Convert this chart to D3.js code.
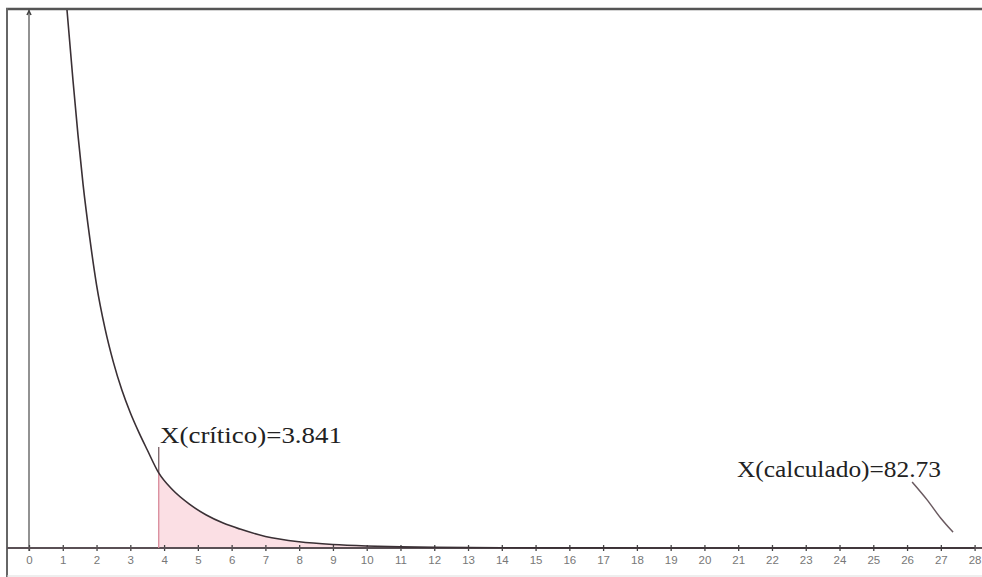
<!DOCTYPE html>
<html><head><meta charset="utf-8">
<script src="https://cdn.jsdelivr.net/npm/d3@7"></script>
<style>html,body{margin:0;padding:0;background:#fff;overflow:hidden}</style>
</head><body>
<svg id="c" width="982" height="577"></svg>
<script>
// data
const tickValues = d3.range(0, 29);
const curveX = [1.125,1.30,1.45,1.60,1.80,2.00,2.25,2.50,2.75,3.00,3.25,3.50,3.841,4.25,4.75,5.25,5.75,6.25,7.0,8.0,9.0,10.0,11.0,12,14,17,20,28];
const curveY = [0.2136,0.186,0.164,0.1445,0.1230,0.1045,0.0872,0.0737,0.0627,0.0537,0.0460,0.0390,0.0298,0.0231,0.0174,0.0131,0.0099,0.0075,0.0046,0.0025,0.0014,0.0008,0.00045,0.00025,0.0001,0.00003,0.00001,0.0];
const critValue = 3.841;
const critPointerTop = 0.0401;
const critLabel = "X(crítico)=3.841";
const calcLabel = "X(calculado)=82.73";
const calcPointerX = [26.15, 26.6, 27.0, 27.36];
const calcPointerY = [0.0262, 0.0190, 0.0118, 0.0063];

const svg = d3.select("#c");
const x = d3.scaleLinear().domain([0, 28]).range([29, 974.6]);
const y = d3.scaleLinear().domain([0, 0.2136]).range([548, 10]);

const pts = curveX.map((v,i)=>[v, curveY[i]]);
const shadePts = pts.filter(p=>p[0] >= critValue);

// shaded area
svg.append("path")
  .datum(shadePts)
  .attr("d", d3.area().x(d=>x(d[0])).y0(y(0)).y1(d=>y(d[1])).curve(d3.curveMonotoneX))
  .attr("fill", "#fbdfe4");

// frame
svg.append("line").attr("x1",6).attr("x2",982).attr("y1",9).attr("y2",9)
  .attr("stroke","#555").attr("stroke-width",2.5);
svg.append("line").attr("x1",7).attr("x2",7).attr("y1",8).attr("y2",577)
  .attr("stroke","#666").attr("stroke-width",2);
svg.append("line").attr("x1",7).attr("x2",982).attr("y1",576).attr("y2",576)
  .attr("stroke","#ddd").attr("stroke-width",1);

// y axis
svg.append("line").attr("x1",x(0)).attr("x2",x(0)).attr("y1",y.range()[1]).attr("y2",551)
  .attr("stroke","#777").attr("stroke-width",1.6);
svg.append("path").attr("d",`M${x(0)-2},${y.range()[1]+5} L${x(0)},${y.range()[1]+1} L${x(0)+2},${y.range()[1]+5}`)
  .attr("fill","none").attr("stroke","#444").attr("stroke-width",1.6);

// x axis
const xAxis = d3.axisBottom(x).tickValues(tickValues).tickSize(3).tickFormat(d3.format("d"));
const gx = svg.append("g").attr("transform", `translate(0,${y(0)})`).call(xAxis);
gx.select(".domain").remove();
gx.selectAll(".tick line").attr("stroke","#444").attr("y1",-3).attr("y2",3).attr("stroke-width",1.3);
gx.selectAll(".tick text").attr("fill","#777").attr("font-family","Liberation Sans, Arial, sans-serif")
  .attr("font-size",11.5).attr("dy","0.71em").attr("y",8);
svg.append("line").attr("x1",7).attr("x2",982).attr("y1",y(0)).attr("y2",y(0))
  .attr("stroke","#5a5055").attr("stroke-width",2);

// critical pointer
svg.append("line").attr("x1",x(critValue)).attr("x2",x(critValue)).attr("y1",y(critPointerTop)).attr("y2",y(0))
  .attr("stroke","#d98a9a").attr("stroke-width",1.3);
svg.append("line").attr("x1",x(critValue)).attr("x2",x(critValue)).attr("y1",y(critPointerTop)).attr("y2",y(0.0298))
  .attr("stroke","#666").attr("stroke-width",1);

// density curve
svg.append("path")
  .datum(pts)
  .attr("d", d3.line().x(d=>x(d[0])).y(d=>y(d[1])).curve(d3.curveMonotoneX))
  .attr("fill","none").attr("stroke","#3a3035").attr("stroke-width",1.6);

// calculado pointer
svg.append("path")
  .datum(calcPointerX.map((v,i)=>[v, calcPointerY[i]]))
  .attr("d", d3.line().x(d=>x(d[0])).y(d=>y(d[1])).curve(d3.curveMonotoneX))
  .attr("fill","none").attr("stroke","#6a5a60").attr("stroke-width",1.5);

// labels
svg.append("text").attr("x",160).attr("y",443).text(critLabel)
  .attr("font-family","Liberation Serif, Times New Roman, serif").attr("font-size",24).attr("fill","#222")
  .attr("textLength",182).attr("lengthAdjust","spacingAndGlyphs");
svg.append("text").attr("x",737).attr("y",477).text(calcLabel)
  .attr("font-family","Liberation Serif, Times New Roman, serif").attr("font-size",24).attr("fill","#222")
  .attr("textLength",204).attr("lengthAdjust","spacingAndGlyphs");
</script>
</body></html>
